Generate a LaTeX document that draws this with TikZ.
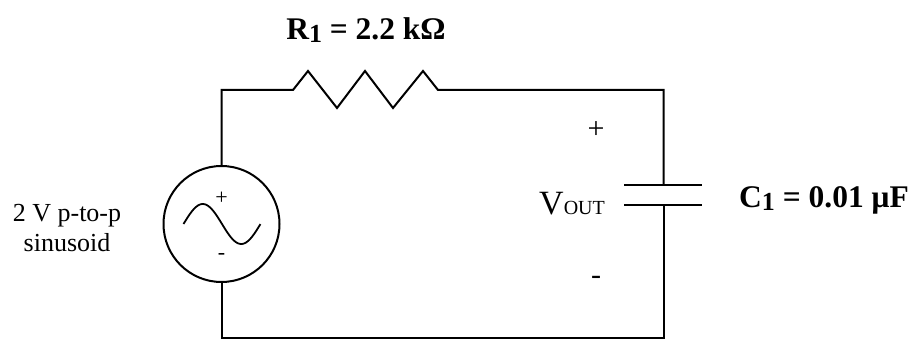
\documentclass[tikz,border=0pt]{standalone}
\usepackage{fontspec}
\setmainfont{Liberation Serif}
\begin{document}
\begin{tikzpicture}[x=1pt,y=-1pt,
  wire/.style={line width=2pt, line join=miter},
  lbl/.style={inner sep=0pt, font=\fontsize{26}{30}\selectfont},
  blbl/.style={inner sep=0pt, font=\fontsize{31.5}{34}\selectfont\bfseries},
  sgn/.style={inner sep=0pt}]
\useasboundingbox (0,0) rectangle (911,339);
% source
\node[circle, draw, line width=2pt, minimum size=116pt, inner sep=0pt] (src) at (221.5,224) {};
\draw[line width=1.8pt] plot[domain=0:1, samples=60, smooth] ({183.5+77*\x},{224-20*sin(360*\x)});
\node[sgn, font=\fontsize{22}{22}\selectfont] (sp) at (221.5,198) {+};
\node[sgn, font=\fontsize{22}{22}\selectfont] (sm) at (221.5,256) {-};
% corners
\coordinate (tl) at (221.5,90);
\coordinate (r1a) at (293,90);
\coordinate (r1b) at (438,90);
\coordinate (tr) at (663.5,90);
\coordinate (c1a) at (663.5,185);
\coordinate (c1b) at (663.5,205);
\coordinate (br) at (663.5,338);
\coordinate (bl) at (221.5,338);
% wires
\draw[wire] (src.north) -- (tl) -- (r1a)
  -- (308,71) -- (337,108) -- (365,71) -- (393,108) -- (423,71) -- (r1b)
  -- (tr) -- (c1a);
\draw[wire] (c1b) -- (br) -- (bl) -- (src.south);
% capacitor plates
\draw[wire] (624,185) -- (702,185);
\draw[wire] (624,205) -- (702,205);
% labels
\node[blbl] (rl) at (366,30) {R\raisebox{-0.12em}{\fontsize{26}{26}\selectfont 1} = 2.2 kΩ};
\node[blbl, anchor=west] (cl) at (739,200) {C\raisebox{-0.12em}{\fontsize{26}{26}\selectfont 1} = 0.01 μF};
\node[lbl, align=center] (sl) at (67,228) {2 V p-to-p\\sinusoid};
\node[inner sep=0pt, anchor=base west, font=\fontsize{34}{34}\selectfont] (vo) at (539,215) {V\fontsize{20}{20}\selectfont OUT};
\node[sgn, font=\fontsize{30}{30}\selectfont] (vp) at (596,130) {+};
\node[sgn, font=\fontsize{30}{30}\selectfont] (vm) at (596,280) {-};
\end{tikzpicture}
\end{document}
